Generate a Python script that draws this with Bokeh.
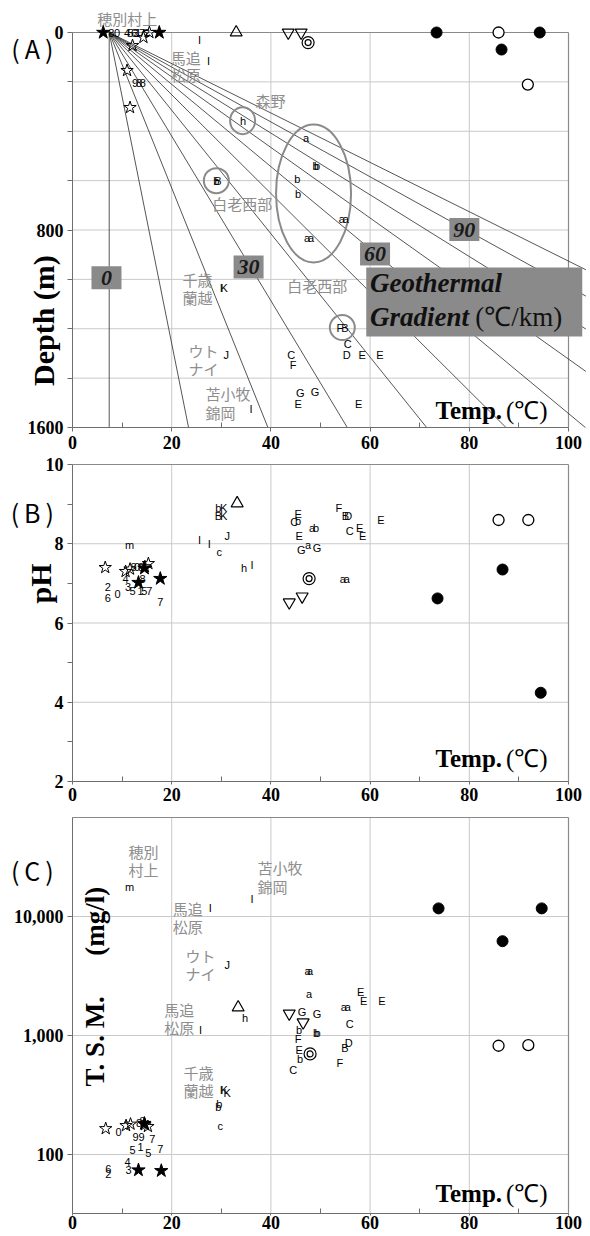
import math
from bokeh.plotting import figure
from bokeh.models import (Range1d, FixedTicker, Label, NumeralTickFormatter, LinearAxis, LogAxis,
                          LogScale)
from bokeh.embed import file_html
from bokeh.resources import INLINE
from bokeh.core.properties import value

# ---------------- data ----------------
TEMP_TICKS = [0, 20, 40, 60, 80, 100]
TEMP_MINOR = [10, 30, 50, 70, 90]
DEPTH_TICKS = [0, 200, 400, 600, 800, 1000, 1200, 1400, 1600]
DEPTH_LABELED = [0, 800, 1600]
PH_TICKS = [2, 4, 6, 8, 10]
PH_MINOR = [3, 5, 7, 9]
TSM_TICKS = [100, 1000, 10000]

# geothermal gradient fan (deg C / km) from surface temperature
T0_SURFACE = 7.4
GRADIENTS = [0, 10, 20, 30, 40, 50, 60, 70, 80, 90, 100]
GRAD_BOX_TEXT = ["0", "30", "60", "90"]

# ---- Panel A: temperature vs depth ----
A_CHR = ["8", "0", "4", "5", "6", "3", "1", "7", "2",
         "9", "8", "8",
         "I", "I", "h", "a", "b", "b", "b", "b", "b", "B", "a", "a", "a", "a",
         "I", "K", "F", "B", "C", "D", "E", "E", "C", "F", "J", "G", "G", "E", "E", "I"]
A_CHR_T = [7.8, 9.0, 11.0, 11.7, 12.4, 12.8, 13.2, 14.0, 15.0,
           12.6, 13.4, 14.2,
           25.6, 27.4, 34.4, 47.1, 49.0, 49.3, 45.3, 45.5, 29.0, 29.3, 54.3, 55.1, 47.3, 48.1,
           30.0, 30.6, 53.9, 54.9, 55.5, 55.3, 58.4, 62.0, 44.1, 44.5, 31.0, 45.9, 48.9, 45.5, 57.7, 36.0]
A_CHR_D = [0, 0, 0, 0, 0, 0, 0, 0, 0,
           203, 203, 203,
           32, 114, 357, 426, 540, 540, 592, 653, 600, 600, 755, 755, 832, 832,
           1034, 1034, 1197, 1197, 1262, 1306, 1306, 1306, 1306, 1347, 1306, 1460, 1456, 1505, 1505, 1525]
A_STAR_FILL_T, A_STAR_FILL_D = [6.2, 17.5], [0, 0]
A_STAR_OPEN_T, A_STAR_OPEN_D = [14.3, 15.5, 12.1, 11.0, 11.6], [20, 0, 53, 154, 304]
A_TRI_T, A_TRI_D = [33.0], [0]
A_INV_T, A_INV_D = [43.5, 46.1], [0, 0]
A_DBL_T, A_DBL_D = [47.5], [41]
A_FILL_T, A_FILL_D = [73.4, 94.2, 86.5], [0, 0, 69]
A_OPEN_T, A_OPEN_D = [85.9, 91.8], [0, 211]

# ---- Panel B: temperature vs pH ----
B_CHR = ["m", "4", "8", "2", "3", "6", "0", "5", "1", "5", "7", "7", "8", "0", "8",
         "b", "K", "B", "K", "I", "I", "J", "c", "h", "I",
         "E", "C", "b", "E", "G", "a", "G", "a", "b", "F", "B", "D", "C", "E", "E", "E", "a", "a"]
B_CHR_T = [11.5, 10.7, 14.1, 7.1, 11.2, 7.1, 9.1, 12.1, 13.7, 14.5, 15.5, 17.7, 12.3, 13.0, 13.8,
           29.4, 30.5, 29.4, 30.5, 25.6, 27.6, 31.2, 29.6, 34.6, 36.2,
           45.5, 44.7, 45.5, 45.7, 46.1, 47.5, 49.3, 48.3, 49.1, 53.7, 55.0, 55.6, 55.9, 57.9, 58.5, 62.2, 54.5, 55.3]
B_CHR_PH = [7.98, 7.12, 7.12, 6.92, 6.92, 6.64, 6.72, 6.8, 6.8, 6.8, 6.8, 6.52, 7.42, 7.42, 7.42,
            8.89, 8.89, 8.71, 8.71, 8.1, 8.0, 8.2, 7.8, 7.4, 7.47,
            8.76, 8.54, 8.58, 8.2, 7.83, 7.98, 7.9, 8.41, 8.41, 8.91, 8.71, 8.71, 8.31, 8.41, 8.2, 8.6, 7.12, 7.12]
B_STAR_FILL_T, B_STAR_FILL_PH = [13.3, 17.7, 14.5], [7.02, 7.12, 7.38]
B_STAR_OPEN_T, B_STAR_OPEN_PH = [6.6, 10.7, 11.6, 14.6, 15.3], [7.4, 7.3, 7.36, 7.42, 7.5]
B_TRI_T, B_TRI_PH = [33.2], [9.02]
B_INV_T, B_INV_PH = [43.7, 46.3], [6.52, 6.67]
B_DBL_T, B_DBL_PH = [47.7], [7.12]
B_FILL_T, B_FILL_PH = [86.7, 73.6, 94.4], [7.35, 6.62, 4.24]
B_OPEN_T, B_OPEN_PH = [85.9, 91.9], [8.6, 8.6]

# ---- Panel C: temperature vs T.S.M. (mg/l) ----
C_CHR = ["m", "I", "I", "J", "a", "a", "a", "h", "I", "G", "G", "b", "F", "b", "b", "E", "b", "C",
         "a", "a", "C", "E", "E", "E", "D", "B", "F", "I", "K", "K", "b", "b", "c",
         "0", "8", "9", "9", "7", "5", "1", "5", "7", "4", "3", "6", "2", "8"]
C_CHR_T = [11.5, 27.8, 36.2, 31.2, 47.4, 47.9, 47.7, 34.8, 25.8, 46.3, 49.3, 45.7, 45.5, 49.1, 49.4, 45.7, 45.9, 44.5,
           54.7, 55.5, 55.9, 58.1, 58.7, 62.4, 55.7, 54.9, 53.9, 30.0, 30.6, 31.2, 29.4, 29.6, 29.8,
           9.3, 14.1, 12.7, 13.9, 16.1, 12.1, 13.7, 15.3, 17.7, 11.1, 11.3, 7.2, 7.2, 13.4]
C_CHR_TSM = [17800, 11700, 13900, 3900, 3450, 3450, 2250, 1410, 1120, 1580, 1530, 1120, 930, 1050, 1050, 760, 640, 510,
             1740, 1740, 1260, 2340, 1960, 1960, 870, 790, 590, 350, 350, 330, 250, 265, 175,
             155, 190, 140, 140, 135, 110, 115, 102, 112, 87, 74, 76, 69, 185]
C_STAR_FILL_T, C_STAR_FILL_TSM = [13.3, 17.9, 14.5], [74, 73, 182]
C_STAR_OPEN_T, C_STAR_OPEN_TSM = [6.7, 10.8, 11.7, 14.6, 15.2], [165, 175, 180, 178, 172]
C_TRI_T, C_TRI_TSM = [33.4], [1720]
C_INV_T, C_INV_TSM = [43.7, 46.5], [1530, 1290]
C_DBL_T, C_DBL_TSM = [47.9], [700]
C_FILL_T, C_FILL_TSM = [73.8, 94.6, 86.7], [11700, 11700, 6200]
C_OPEN_T, C_OPEN_TSM = [85.9, 91.9], [820, 830]

# site names (grey annotations)
A_SITE_TEXT = ["穂別村上", "馬追", "松原", "森野", "白老西部", "千歳", "蘭越", "白老西部", "ウト", "ナイ", "苫小牧", "錦岡"]
C_SITE_TEXT = ["穂別", "村上", "苫小牧", "錦岡", "馬追", "松原", "ウト", "ナイ", "馬追", "松原", "千歳", "蘭越"]

# ---------------- styling / layout ----------------
GRID = "#c9c9c9"
FRAME = "#8a8a8a"
AXIS = "#6e6e6e"
SITE = "#8e8e8e"
SERIF = "Liberation Serif"
SANS = "Liberation Sans"
CJK = "Noto Sans CJK JP"
W, H = 590, 1236
PX_PER_T = 4.96
X_LO = -72 / PX_PER_T
X_HI = 100 + 22 / PX_PER_T

# vertical placement of the three stacked panels (one shared canvas)
D_PX = (427 - 32) / 1600.0                      # px per metre, depth 0 at y=32
DEPTH_RANGE = Range1d(1600 + (H - 427) / D_PX, -32 / D_PX)
PH_PX = (781 - 464) / 8.0                       # px per pH unit, pH 10 at y=464
PH_RANGE = Range1d(2 - (H - 781) / PH_PX, 10 + 464 / PH_PX)
DEC_PX = 119.0                                  # px per decade, 10^4 at y=916
TSM_RANGE = Range1d(10 ** (4 - (H - 916) / DEC_PX), 10 ** (4 + 916 / DEC_PX))
TSM_BOTTOM = 10 ** (4 - (1213 - 916) / DEC_PX)
TSM_TOP = 10 ** (4 - (817 - 916) / DEC_PX)

p = figure(width=W, height=H, x_range=Range1d(X_LO, X_HI), y_range=DEPTH_RANGE,
           x_axis_type=None, y_axis_type=None, output_backend="svg", toolbar_location=None,
           min_border=0)
p.extra_y_ranges = {"ph": PH_RANGE, "tsm": TSM_RANGE}
p.extra_y_scales = {"tsm": LogScale()}
p.outline_line_color = None
p.background_fill_color = "white"
p.border_fill_color = "white"


def style_axis(ax):
    ax.major_label_text_font = SERIF
    ax.major_label_text_font_style = "bold"
    ax.major_label_text_font_size = "18px"
    ax.major_label_text_color = "black"
    ax.axis_line_color = AXIS
    ax.major_tick_line_color = AXIS
    ax.minor_tick_line_color = AXIS
    ax.major_tick_in = 0


def add_axes(rn, y_axis, y_bounds, x_loc, x_tick_out, x_standoff):
    y_axis.y_range_name = rn
    y_axis.fixed_location = 0
    y_axis.bounds = y_bounds
    y_axis.major_tick_out = 5
    y_axis.minor_tick_out = 5
    y_axis.minor_tick_in = 0
    y_axis.major_label_standoff = 4
    style_axis(y_axis)
    p.add_layout(y_axis, "left")
    xa = LinearAxis(y_range_name=rn, fixed_location=x_loc, bounds=(0, 100),
                    ticker=FixedTicker(ticks=TEMP_TICKS, minor_ticks=TEMP_MINOR))
    xa.minor_tick_in = 5
    xa.minor_tick_out = 0
    xa.major_tick_out = x_tick_out
    xa.major_label_standoff = x_standoff
    style_axis(xa)
    p.add_layout(xa, "below")


def frame_and_grid(rn, y_lo, y_hi, y_grid):
    gx = [t for t in TEMP_TICKS if 0 < t < 100]
    p.segment(x0=gx, y0=[y_lo] * len(gx), x1=gx, y1=[y_hi] * len(gx), line_color=GRID,
              line_width=1, y_range_name=rn)
    p.segment(x0=[0] * len(y_grid), y0=y_grid, x1=[100] * len(y_grid), y1=y_grid, line_color=GRID,
              line_width=1, y_range_name=rn)
    p.segment(x0=[0, 100], y0=[y_hi, y_hi], x1=[100, 100], y1=[y_hi, y_lo], line_color=FRAME,
              line_width=1.2, y_range_name=rn)


def draw_points(rn, chars, cx, cy, sf, so, tri, inv, dbl, fill, opn):
    p.text(x=cx, y=cy, text=chars, text_font=value(SANS), text_font_size="11px",
           text_align="center", text_baseline="middle", text_color="black", y_range_name=rn)
    kw = dict(y_range_name=rn)
    p.scatter(x=so[0], y=so[1], marker="star", size=13, fill_color=None, line_color="black", line_width=1, **kw)
    p.scatter(x=sf[0], y=sf[1], marker="star", size=14, fill_color="black", line_color="black", **kw)
    p.scatter(x=tri[0], y=tri[1], marker="triangle", size=12, fill_color=None, line_color="black",
              line_width=1.2, **kw)
    p.scatter(x=inv[0], y=inv[1], marker="inverted_triangle", size=12, fill_color=None, line_color="black",
              line_width=1.2, **kw)
    p.scatter(x=dbl[0], y=dbl[1], marker="circle", size=12, fill_color=None, line_color="black", line_width=1.2, **kw)
    p.scatter(x=dbl[0], y=dbl[1], marker="circle", size=6, fill_color=None, line_color="black", line_width=1.2, **kw)
    p.scatter(x=fill[0], y=fill[1], marker="circle", size=11, fill_color="black", line_color="black", **kw)
    p.scatter(x=opn[0], y=opn[1], marker="circle", size=11, fill_color="white", line_color="black",
              line_width=1.3, **kw)


def sites(rn, texts, xs, ys):
    p.text(x=xs, y=ys, text=texts, text_font=value(CJK), text_font_size="15px",
           text_align="left", text_baseline="middle", text_color=SITE, y_range_name=rn)


def temp_label(rn, y):
    p.add_layout(Label(x=86.6, y=y, y_range_name=rn, text="Temp.", text_align="right", text_baseline="middle",
                       text_font=SERIF, text_font_style="bold", text_font_size="25px", text_color="black"))
    p.add_layout(Label(x=87.4, y=y, y_range_name=rn, text="(℃)", text_align="left", text_baseline="middle",
                       text_font=SERIF, text_font_size="25px", text_color="black"))


def panel_tag(rn, y, txt):
    p.add_layout(Label(x=-8.1, y=y, y_range_name=rn, text=txt, text_align="center", text_baseline="middle",
                       text_font=CJK, text_font_size="25px", text_color="black"))


def vlabel(rn, x, y, txt, size):
    p.add_layout(Label(x=x, y=y, y_range_name=rn, text=txt, angle=math.pi / 2, text_align="center",
                       text_baseline="middle", text_font=SERIF, text_font_style="bold",
                       text_font_size=size, text_color="black"))


# ---------------- Panel A ----------------
ya = LinearAxis(ticker=FixedTicker(ticks=DEPTH_TICKS, minor_ticks=[]))
ya.major_label_overrides = {t: (str(t) if t in DEPTH_LABELED else "") for t in DEPTH_TICKS}
add_axes("default", ya, (0, 1600), 1600, 4, 4)
frame_and_grid("default", 1600, 0, [d for d in DEPTH_TICKS if 0 < d < 1600])

xs, ys = [], []
for g in GRADIENTS:
    if g == 0:
        xs.append([T0_SURFACE, T0_SURFACE])
        ys.append([0, 1600])
    else:
        dend = min(1600.0, (103.5 - T0_SURFACE) / g * 1000.0)
        xs.append([T0_SURFACE, T0_SURFACE + g * dend / 1000.0])
        ys.append([0, dend])
p.multi_line(xs=xs, ys=ys, line_color="#2b2b2b", line_width=0.8)

p.rect(x=[6.85, 35.5, 61.0, 79.0], y=[993, 950, 897, 798], width=30, height=23,
       width_units="screen", height_units="screen", fill_color="#8a8a8a", line_color=None)
p.text(x=[6.85, 35.5, 61.0, 79.0], y=[993, 950, 897, 798], text=GRAD_BOX_TEXT,
       text_font=value(SERIF), text_font_style="bold italic", text_font_size="22px",
       text_align="center", text_baseline="middle", text_color="#1a1a1a")
p.rect(x=[81.0], y=[1092], width=216, height=69, width_units="screen", height_units="screen",
       fill_color="#8a8a8a", line_color=None)
p.text(x=[60.0, 60.0], y=[1013, 1151], text=["Geothermal", "Gradient"],
       text_font=value(SERIF), text_font_style="bold italic", text_font_size="27px",
       text_align="left", text_baseline="middle", text_color="#111111")
p.text(x=[81.2], y=[1151], text=["(℃/km)"], text_font=value(SERIF), text_font_size="27px",
       text_align="left", text_baseline="middle", text_color="#111111")

p.ellipse(x=[34.3, 29.0, 54.4, 48.6], y=[357, 600, 1195, 652], width=[25, 25, 25, 75],
          height=[27, 25, 25, 138], width_units="screen", height_units="screen",
          fill_color=None, line_color="#8a8a8a", line_width=2)

sites("default", A_SITE_TEXT,
      [5.0, 19.8, 19.8, 36.9, 28.2, 22.2, 22.2, 43.3, 23.4, 23.4, 26.8, 26.8],
      [-57, 101, 170, 276, 693, 1001, 1074, 1025, 1288, 1361, 1463, 1540])
draw_points("default", A_CHR, A_CHR_T, A_CHR_D,
            (A_STAR_FILL_T, A_STAR_FILL_D), (A_STAR_OPEN_T, A_STAR_OPEN_D), (A_TRI_T, A_TRI_D),
            (A_INV_T, A_INV_D), (A_DBL_T, A_DBL_D), (A_FILL_T, A_FILL_D), (A_OPEN_T, A_OPEN_D))
temp_label("default", 1532)
panel_tag("default", 61, "(\u2009A\u2009)")
vlabel("default", -5.85, 1167, "Depth (m)", "30px")

# ---------------- Panel B ----------------
yb = LinearAxis(ticker=FixedTicker(ticks=PH_TICKS, minor_ticks=PH_MINOR))
add_axes("ph", yb, (2, 10), 2, 3, 3)
frame_and_grid("ph", 2, 10, [4, 6, 8])
draw_points("ph", B_CHR, B_CHR_T, B_CHR_PH,
            (B_STAR_FILL_T, B_STAR_FILL_PH), (B_STAR_OPEN_T, B_STAR_OPEN_PH), (B_TRI_T, B_TRI_PH),
            (B_INV_T, B_INV_PH), (B_DBL_T, B_DBL_PH), (B_FILL_T, B_FILL_PH), (B_OPEN_T, B_OPEN_PH))
temp_label("ph", 2.58)
panel_tag("ph", 8.79, "(\u2009B\u2009)")
vlabel("ph", -6.45, 7.0, "pH", "30px")

# ---------------- Panel C ----------------
yc = LogAxis(ticker=FixedTicker(ticks=TSM_TICKS, minor_ticks=[]),
             formatter=NumeralTickFormatter(format="0,0"))
add_axes("tsm", yc, (TSM_BOTTOM, TSM_TOP), TSM_BOTTOM, 2, 0)
frame_and_grid("tsm", TSM_BOTTOM, TSM_TOP, TSM_TICKS)
sites("tsm", C_SITE_TEXT,
      [11.3, 11.3, 37.3, 37.3, 20.2, 20.2, 22.8, 22.8, 18.5, 18.5, 22.4, 22.4],
      [35200, 24800, 25800, 17900, 11700, 8240, 4700, 3310, 1650, 1170, 489, 345])
draw_points("tsm", C_CHR, C_CHR_T, C_CHR_TSM,
            (C_STAR_FILL_T, C_STAR_FILL_TSM), (C_STAR_OPEN_T, C_STAR_OPEN_TSM), (C_TRI_T, C_TRI_TSM),
            (C_INV_T, C_INV_TSM), (C_DBL_T, C_DBL_TSM), (C_FILL_T, C_FILL_TSM), (C_OPEN_T, C_OPEN_TSM))
temp_label("tsm", 47)
panel_tag("tsm", 24400, "(\u2009C\u2009)")
vlabel("tsm", 4.6, 2580, "T. S. M.\u00a0\u00a0\u00a0\u00a0\u00a0\u00a0(mg/l)", "27px")

open("out.html", "w").write(file_html(p, INLINE))
